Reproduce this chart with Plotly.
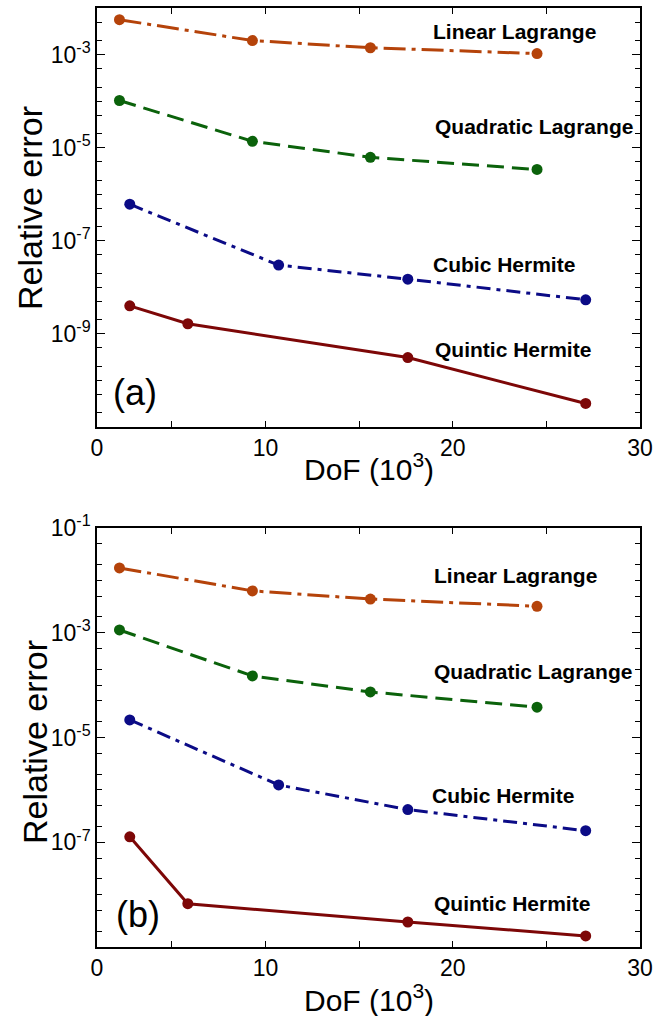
import plotly.graph_objects as go

# ---------------- data ----------------
dof_lagrange = [2.2, 9.3, 15.6, 24.5]
dof_cubic = [2.75, 10.7, 17.6, 27.1]
dof_quintic = [2.75, 5.85, 17.6, 27.1]

# panel (a)
lin_a = [5.6e-3, 2.0e-3, 1.4e-3, 1.05e-3]
quad_a = [1.03e-4, 1.37e-5, 6.2e-6, 3.4e-6]
cub_a = [6.1e-7, 3.0e-8, 1.5e-8, 5.4e-9]
quin_a = [4.0e-9, 1.65e-9, 3.1e-10, 3.2e-11]

# panel (b)
lin_b = [1.73e-2, 6.3e-3, 4.4e-3, 3.2e-3]
quad_b = [1.13e-3, 1.5e-4, 7.4e-5, 3.8e-5]
cub_b = [2.17e-5, 1.24e-6, 4.2e-7, 1.66e-7]
quin_b = [1.27e-7, 6.7e-9, 3.0e-9, 1.63e-9]

series_names = ["Linear Lagrange", "Quadratic Lagrange", "Cubic Hermite", "Quintic Hermite"]
x_tickvals = [1, 10, 20, 30]
x_ticktext = ["0", "10", "20", "30"]
x_minorvals = [5, 15, 25]
y_exp_a = [-3, -5, -7, -9]
y_exp_b = [-1, -3, -5, -7]

# ---------------- styles ----------------
W, H = 653, 1016
FONT = "Liberation Sans, Arial, sans-serif"
colors = ["#B5430A", "#0B620B", "#0B0B86", "#7D0707"]
dashes = ["22px,6px,4px,6px", "17px,8px", "14px,6px,4px,6px", "solid"]

def px2x(p):
    return p / W

def px2y(p):
    return 1 - p / H

fig = go.Figure()

panels = [
    dict(xa="x", ya="y", data=[lin_a, quad_a, cub_a, quin_a]),
    dict(xa="x2", ya="y2", data=[lin_b, quad_b, cub_b, quin_b]),
]
xs = [dof_lagrange, dof_lagrange, dof_cubic, dof_quintic]

for p in panels:
    for i, ys in enumerate(p["data"]):
        fig.add_trace(go.Scatter(
            x=xs[i], y=ys, mode="lines+markers", name=series_names[i],
            xaxis=p["xa"], yaxis=p["ya"], showlegend=False,
            line=dict(color=colors[i], width=3, dash=dashes[i]),
            marker=dict(color=colors[i], size=11),
        ))

def minor_vals(lo, hi, labeled):
    out = []
    for e in range(lo, hi):
        out += [2 * 10.0 ** e, 5 * 10.0 ** e]
    for e in range(lo, hi + 1):
        if e not in labeled:
            out.append(10.0 ** e)
    return out

axis_common = dict(
    showline=True, linecolor="black", linewidth=1.5, mirror="ticks",
    ticks="inside", tickcolor="black", showgrid=False, zeroline=False,
    automargin=False,
    tickfont=dict(family=FONT, size=23, color="black"),
)

xdom = [px2x(97), px2x(640)]
xminor = dict(tickmode="array", tickvals=x_minorvals, ticks="inside",
              ticklen=6, tickcolor="black")

def yaxis_cfg(dom, lo, hi, labeled, anchor):
    return dict(domain=dom, type="log", range=[lo, hi], tickmode="array",
                tickvals=[10.0 ** e for e in labeled],
                ticktext=[f"10<sup>{e}</sup>" for e in labeled], ticklen=8,
                minor=dict(tickmode="array", tickvals=minor_vals(lo, hi, labeled),
                           ticks="inside", ticklen=5, tickcolor="black"),
                anchor=anchor, **axis_common)

fig.update_layout(
    width=W, height=H, margin=dict(l=0, r=0, t=0, b=0),
    paper_bgcolor="white", plot_bgcolor="white",
    xaxis=dict(domain=xdom, range=[1, 30], tickmode="array", tickvals=x_tickvals,
               ticktext=x_ticktext, ticklen=6, minor=xminor, anchor="y", **axis_common),
    yaxis=yaxis_cfg([px2y(427), px2y(8)], -11, -2, y_exp_a, "x"),
    xaxis2=dict(domain=xdom, range=[1, 30], tickmode="array", tickvals=x_tickvals,
                ticktext=x_ticktext, ticklen=6, minor=xminor, anchor="y2", **axis_common),
    yaxis2=yaxis_cfg([px2y(947), px2y(528)], -9, -1, y_exp_b, "x2"),
)

ann = []
# series labels (pixel positions)
label_pos_a = [(514, 32), (534, 126), (504, 264), (513, 349)]
label_pos_b = [(515, 575), (533, 671), (503, 795), (512, 903)]
for pos_set in (label_pos_a, label_pos_b):
    for name, (px, py) in zip(series_names, pos_set):
        ann.append(dict(x=px2x(px), y=px2y(py), xref="paper", yref="paper",
                        text=f"<b>{name}</b>", showarrow=False,
                        xanchor="center", yanchor="middle",
                        font=dict(family=FONT, size=21, color="black")))

for txt, (px, py) in [("(a)", (135, 392)), ("(b)", (138, 914))]:
    ann.append(dict(x=px2x(px), y=px2y(py), xref="paper", yref="paper", text=txt,
                    showarrow=False, xanchor="center", yanchor="middle",
                    font=dict(family=FONT, size=36, color="black")))

for (px, py) in [(30, 208), (35, 742)]:
    ann.append(dict(x=px2x(px), y=px2y(py), xref="paper", yref="paper",
                    text="Relative error", textangle=-90, showarrow=False,
                    xanchor="center", yanchor="middle",
                    font=dict(family=FONT, size=34, color="black")))

for (px, py) in [(369, 467), (369, 998)]:
    ann.append(dict(x=px2x(px), y=px2y(py), xref="paper", yref="paper",
                    text="DoF (10<sup>3</sup>)", showarrow=False,
                    xanchor="center", yanchor="middle",
                    font=dict(family=FONT, size=30, color="black")))

fig.update_layout(annotations=ann)
fig.write_html("out.html")
